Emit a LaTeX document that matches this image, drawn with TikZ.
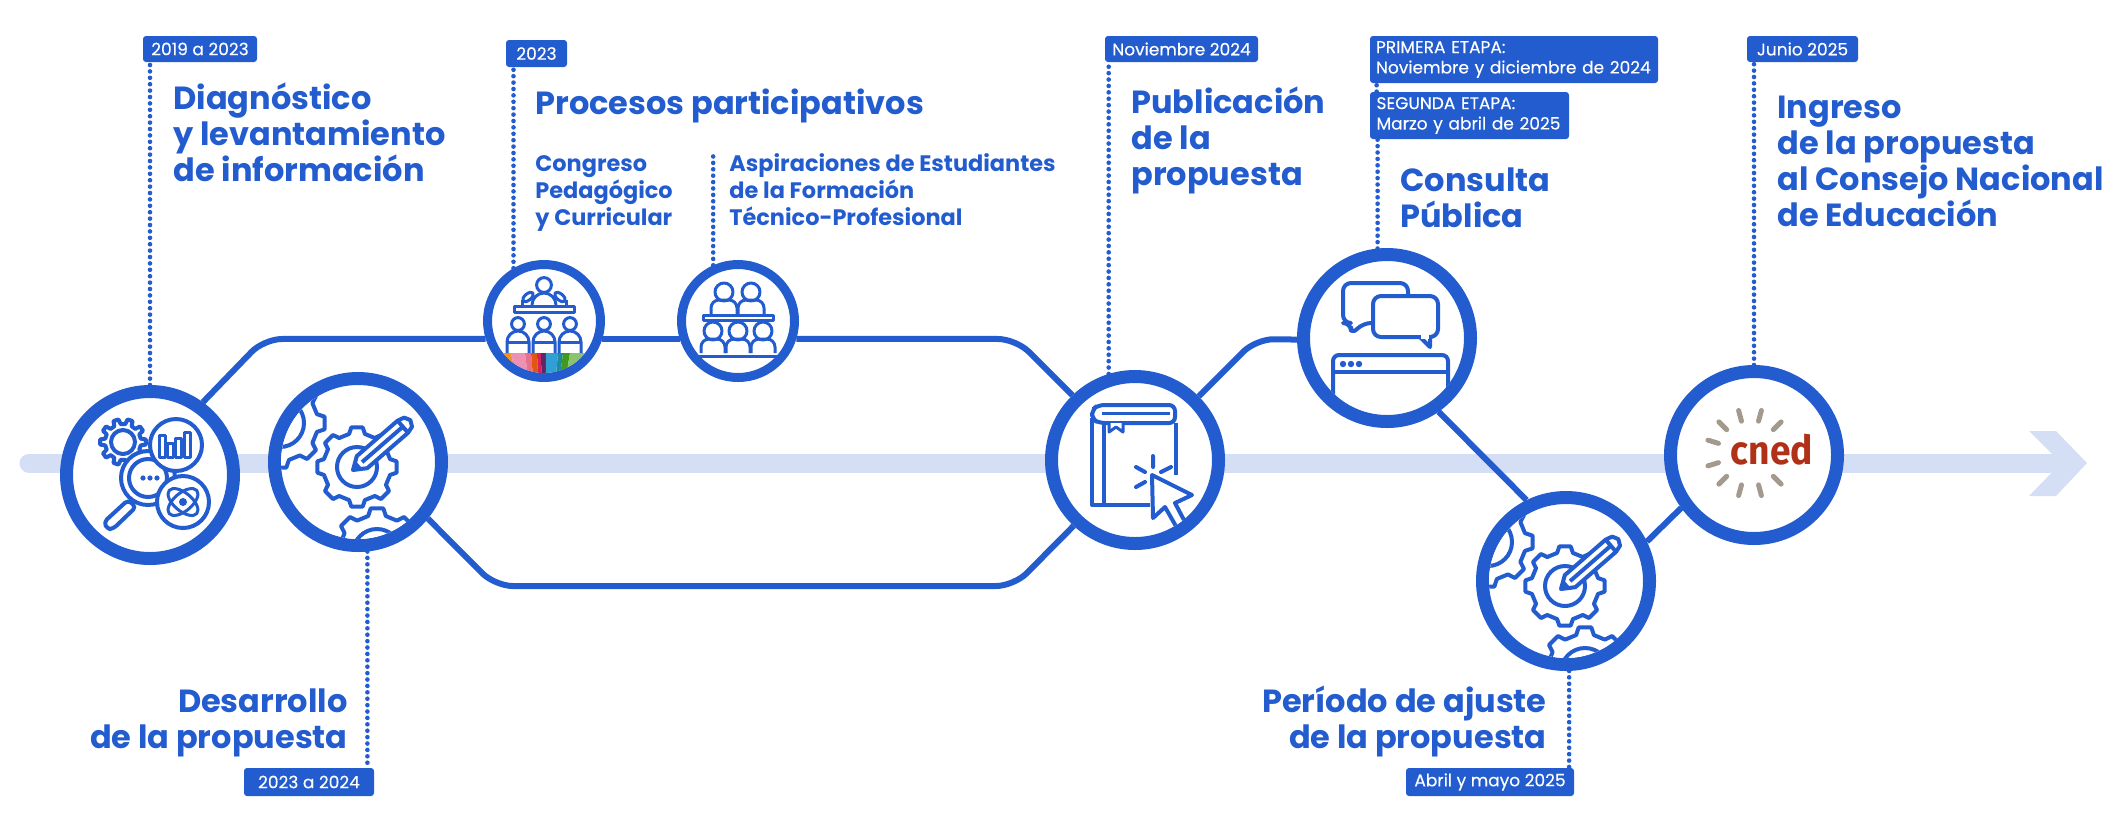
\documentclass[tikz,border=0pt]{standalone}
\usepackage{fontspec}
\setmainfont{Poppins}
\newfontfamily\tagfont[FakeBold=0.2]{Poppins}
\newfontfamily\cnedfont[FakeStretch=0.93]{Fira Sans}
\usetikzlibrary{calc}
\definecolor{cnedblue}{HTML}{235CCF}
\definecolor{axisblue}{HTML}{D4DEF5}
\definecolor{cnedred}{HTML}{B03018}
\definecolor{cnedgray}{HTML}{A39A8D}
\definecolor{bandA}{HTML}{F0931E}
\definecolor{bandB}{HTML}{EE8FB4}
\definecolor{bandC}{HTML}{E8708A}
\definecolor{bandD}{HTML}{E2570F}
\definecolor{bandE}{HTML}{D3225E}
\definecolor{bandF}{HTML}{5A2A62}
\definecolor{bandG}{HTML}{2F9FD6}
\definecolor{bandH}{HTML}{1E8C9E}
\definecolor{bandI}{HTML}{3F9A1E}
\definecolor{bandJ}{HTML}{8CC36E}
\tikzset{bigring/.style={circle, draw=cnedblue, fill=white, line width=6.5pt, minimum size=83.5pt, inner sep=0pt},
    smallring/.style={circle, draw=cnedblue, fill=white, line width=4.5pt, minimum size=56.5pt, inner sep=0pt},
    link/.style={draw=cnedblue, line width=3pt, rounded corners=9pt},
    dotline/.style={draw=cnedblue, line width=2.3pt, line cap=round, dash pattern=on 0pt off 3.2pt},
    tag/.style={fill=cnedblue, rounded corners=1.5pt, text=white, inner sep=0pt, font=\fontsize{8.5}{10.2}\tagfont, align=left},
    title/.style={text=cnedblue, inner sep=0pt, anchor=base west, align=left, font=\fontsize{16}{18}\selectfont\bfseries},
    subtitle/.style={text=cnedblue, inner sep=0pt, anchor=base west, align=left, font=\fontsize{11.2}{13.5}\selectfont\bfseries},
    icon/.style={draw=cnedblue, line width=2pt, line join=round},
    thinicon/.style={draw=cnedblue, line width=1.5pt, line join=round}}
% x y outer root teeth
\newcommand{\gearShape}[5]{
    \pgfmathtruncatemacro{\lastTooth}{#5-1}
    \draw[icon, fill=white, shift={(#1,#2)}] (-108/#5:#4)
        \foreach \k [evaluate=\k as \a using \k*360/#5] in {0,...,\lastTooth}
        { -- (\a-108/#5:#4) -- (\a-65/#5:#3) -- (\a+65/#5:#3) -- (\a+108/#5:#4) } -- cycle;
}
\newcommand{\gearScene}{
    \begin{scope}
        \clip (0,0) circle (38.5pt);
        \gearShape{-78}{-39}{45}{38}{8}
        \draw[icon] (-78,-39) circle (12pt);
        \gearShape{19}{91}{45}{38}{8}
        \draw[icon] (19,91) circle (12pt);
        \gearShape{-1}{5}{40}{34}{8}
        \draw[icon] (-1,5) circle (10pt);
        \begin{scope}[shift={(-5,8)}, rotate=41]
            \draw[icon, fill=white] (0,0) -- (12,-8) -- (66,-8) -- (73,-6) -- (76,0) -- (73,6) -- (66,8) -- (12,8) -- cycle;
            \draw[icon] (66,-8) -- (66,8) (12,0) -- (64,0);
            \fill[cnedblue] (0,0) -- (8,-4) -- (8,4) -- cycle;
        \end{scope}
    \end{scope}
}
\begin{document}
\begin{tikzpicture}[x=0.5pt, y=-0.5pt]
    \useasboundingbox (0,0) rectangle (2110,827);
    % axis
    \coordinate (axisStart) at (29,463);
    \coordinate (axisEnd) at (2062,463);
    \draw[axisblue, line width=9.5pt, line cap=round] (axisStart) -- (axisEnd);
    \fill[axisblue] (2029,431) -- (2056,431) -- (2087,463) -- (2056,496) -- (2029,496) -- (2061,463) -- cycle;
    % circles
    \node[bigring] (diag) at (150,475) {};
    \node[bigring] (desa) at (358,462) {};
    \node[smallring] (cong) at (544,321) {};
    \node[smallring] (aspi) at (738,321) {};
    \node[bigring] (book) at (1135,460) {};
    \node[bigring] (cons) at (1387,338) {};
    \node[bigring] (ajus) at (1566,581) {};
    \node[bigring] (cned) at (1754,455) {};
    % solid links
    \coordinate (upA) at (264,339);
    \coordinate (upB) at (1016,339);
    \coordinate (lowA) at (495,586);
    \coordinate (lowB) at (1014,586);
    \coordinate (upC) at (1256,339);
    \draw[link] (diag.54) -- (upA) -- (cong.197);
    \draw[link] (cong.-17) -- (aspi.197);
    \draw[link] (aspi.-17) -- (upB) -- (book.134);
    \draw[link] (desa.-39) -- (lowA) -- (lowB) -- (book.227);
    \draw[link] (book.45) -- (upC) -- (cons.181);
    \draw[link] (cons.-55) -- (ajus.116);
    \draw[link] (ajus.26) -- (cned.216);
    % date tags
    \node[tag, minimum width=57pt, minimum height=13pt] (tagDiag) at (200,49) {2019 a 2023};
    \node[tag, minimum width=30.5pt, minimum height=13.5pt] (tagCong) at (536.5,53.5) {2023};
    \node[tag, minimum width=76.5pt, minimum height=13pt] (tagBook) at (1181.5,49) {Noviembre 2024};
    \node[tag, text width=138pt, inner xsep=3pt, minimum height=23.5pt] (tagEtapaA) at (1514,59.5) {PRIMERA ETAPA:\\Noviembre y diciembre de 2024};
    \node[tag, text width=93pt, inner xsep=3.25pt, minimum height=23.5pt] (tagEtapaB) at (1469.5,115.5) {SEGUNDA ETAPA:\\Marzo y abril de 2025};
    \node[tag, minimum width=55.5pt, minimum height=13pt] (tagIngr) at (1802.5,49) {Junio 2025};
    \node[tag, minimum width=65pt, minimum height=14pt] (tagDesa) at (309,782) {2023 a 2024};
    \node[tag, minimum width=84pt, minimum height=14pt] (tagAjus) at (1490,782) {Abril y mayo 2025};
    \coordinate (aspiTop) at (713,156);
    % dotted links
    \draw[dotline] (diag.north) -- (diag.north |- tagDiag.south);
    \draw[dotline] (cong.120) -- (cong.120 |- tagCong.south);
    \draw[dotline] (aspi.114) -- (aspi.114 |- aspiTop);
    \draw[dotline] (book.107) -- (book.107 |- tagBook.south);
    \draw[dotline] (cons.96) -- (cons.96 |- tagEtapaB.south);
    \draw[dotline] ($(tagEtapaB.north west)+(7,0)$) -- ($(tagEtapaA.south west)+(7,0)$);
    \draw[dotline] (cned.north) -- (cned.north |- tagIngr.south);
    \draw[dotline] (desa.-84) -- (desa.-84 |- tagDesa.north);
    \draw[dotline] (ajus.-88) -- (ajus.-88 |- tagAjus.north);
    % titles
    \node[title] (txtDiag) at (173,181) {Diagnóstico\\y levantamiento\\de información};
    \node[title] (txtProc) at (535,114) {Procesos participativos};
    \node[subtitle] (txtCong) at (535,225) {Congreso\\Pedagógico\\y Curricular};
    \node[subtitle] (txtAspi) at (729,225) {Aspiraciones de Estudiantes\\de la Formación\\Técnico-Profesional};
    \node[title] (txtBook) at (1131,185) {Publicación\\de la\\propuesta};
    \node[title] (txtCons) at (1400,227) {Consulta\\Pública};
    \node[title] (txtIngr) at (1777,226) {Ingreso\\de la propuesta\\al Consejo Nacional\\de Educación};
    \node[title, anchor=base east, align=right] (txtDesa) at (348,748) {Desarrollo\\de la propuesta};
    \node[title, anchor=base east, align=right] (txtAjus) at (1547,748) {Período de ajuste\\de la propuesta};
    % research icon
    \begin{scope}[shift={(diag.center)}]
        \gearShape{-27}{-33}{23}{18}{10}
        \draw[icon] (-27,-33) circle (6pt);
        \draw[icon, fill=white, rounded corners=2pt] (-22,25) -- (-46,47) -- (-43,54) -- (-37,54) -- (-14,32) -- cycle;
        \draw[icon, fill=white] (-2,3) circle (13.5pt);
        \draw[icon] (-2,3) circle (9.5pt);
        \fill[cnedblue] (-7,3) circle (1.3pt) (0,3) circle (1.3pt) (7,3) circle (1.3pt);
        \draw[icon, fill=white] (26,-30) circle (13pt);
        \foreach \xa/\ya in {12/-40,20/-32,28/-37,37/-43}
            \draw[thinicon] (\xa-3,-18) rectangle (\xa+3,\ya);
        \draw[icon, fill=white] (33,27) circle (13pt);
        \draw[thinicon, rotate around={40:(33,27)}] (33,27) ellipse (9pt and 4.5pt);
        \draw[thinicon, rotate around={-40:(33,27)}] (33,27) ellipse (9pt and 4.5pt);
        \fill[cnedblue] (33,27) circle (2pt);
    \end{scope}
    % gears
    \begin{scope}[shift={(desa.center)}]
        \gearScene
    \end{scope}
    \begin{scope}[shift={(ajus.center)}]
        \gearScene
    \end{scope}
    % congress icon
    \begin{scope}[shift={(cong.center)}]
        \begin{scope}
            \clip (0,0) circle (26pt);
            \foreach \xa/\xb/\clr in {-41/-33/bandA,-33/-19/bandB,-19/-13/bandC,-13/-7/bandD,-7/-3/bandE,-3/2/bandF,2/14/bandG,14/19/bandH,19/26/bandI,26/42/bandJ}
                \fill[\clr] (\xa,32) -- (\xb,32) -- ({\xb*0.85},55) -- ({\xa*0.85},55) -- cycle;
        \end{scope}
        \draw[thinicon] (0,-36) circle (3.7pt);
        \draw[thinicon] (-12,-16) arc (180:0:6pt);
        \draw[thinicon] (-30,-15) rectangle (30,-9);
        \draw[thinicon] (-22,-16) -- (-22,-21) (22,-16) -- (22,-21);
        \draw[thinicon, rotate around={40:(-16,-24)}] (-16,-24) ellipse (3.2pt and 1.6pt);
        \draw[thinicon, rotate around={-40:(16,-24)}] (16,-24) ellipse (3.2pt and 1.6pt);
        \foreach \xa in {-26,0,26} {
            \draw[thinicon] (\xa,3) circle (3.2pt);
            \draw[thinicon] (\xa-11,32) -- (\xa-11,21) arc (180:0:5.5pt) -- (\xa+11,32);
            \draw[thinicon] (\xa-12,21) -- (\xa+12,21);
        }
    \end{scope}
    % students icon
    \begin{scope}[shift={(aspi.center)}]
        \foreach \xa in {-14,13} {
            \draw[thinicon] (\xa,-29) circle (4.5pt);
            \draw[thinicon] (\xa-13,-7) -- (\xa-13,-13) arc (180:90:4pt) -- (\xa+5,-21) arc (90:0:4pt) -- (\xa+13,-7);
        }
        \draw[thinicon] (-35,-6) rectangle (35,-1);
        \foreach \xa in {-25,0,25} {
            \draw[thinicon, fill=white] (\xa,10) circle (4.5pt);
            \draw[thinicon] (\xa-12,32) -- (\xa-12,26) arc (180:90:4pt) -- (\xa+4,18) arc (90:0:4pt) -- (\xa+12,32);
        }
        \draw[thinicon] (-39,35) -- (40,35);
    \end{scope}
    % book icon
    \begin{scope}[shift={(book.center)}]
        \draw[icon, rounded corners=3pt] (40,-37) -- (-36,-37) -- (-43,-41) -- (-43,-50) -- (-37,-55) -- (40,-55) -- cycle;
        \draw[icon] (-43,-42) -- (-43,45) -- (15,45);
        \draw[icon] (-31,-37) -- (-31,45);
        \draw[icon] (41,-37) -- (41,15);
        \draw[thinicon] (-33,-47) -- (35,-47);
        \draw[thinicon, fill=white] (-26,-37) -- (-26,-28) -- (-19,-33) -- (-12,-28) -- (-12,-37);
        \draw[icon, line cap=round] (18,-4) -- (18,7) (1,7) -- (10,12) (26,12) -- (36,7) (1,27) -- (10,22);
        \begin{scope}
            \clip (0,0) circle (38.5pt);
            \draw[icon, fill=white] (17,15) -- (57,35) -- (40,43) -- (50,62) -- (42,68) -- (30,47) -- (18,58) -- cycle;
        \end{scope}
    \end{scope}
    % forum icon
    \begin{scope}[shift={(cons.center)}]
        \draw[icon, rounded corners=4pt] (21,-30) -- (21,-55) -- (-44,-55) -- (-44,-15) -- (-36,-15) -- (-36,-3) -- (-24,-15) -- (-14,-15);
        \draw[icon, fill=white, rounded corners=4pt] (-14,-42) rectangle (51,-1);
        \draw[icon, fill=white] (33,-1) -- (43,9) -- (43,-1);
        \draw[white, line width=2pt] (34,-1) -- (42,-1);
        \begin{scope}
            \clip (0,0) circle (38.5pt);
            \draw[icon, rounded corners=3pt] (-54,70) -- (-54,17) -- (61,17) -- (61,70);
        \end{scope}
        \draw[icon] (-54,34) -- (61,34);
        \fill[cnedblue] (-44,26) circle (1.6pt) (-36,26) circle (1.6pt) (-28,26) circle (1.6pt);
    \end{scope}
    % logo
    \begin{scope}[shift={(cned.center)}]
        \foreach \ang in {45,75,105,135,163,197,225,255,285,315}
            \draw[cnedgray, line width=2.5pt, line cap=round] ($(-4,-2)+(\ang:33)$) -- ($(-4,-2)+(\ang:44)$);
        \node[text=cnedred, inner sep=0pt, font=\fontsize{20}{20}\cnedfont\bfseries] (txtCned) at (18,-5) {cned};
    \end{scope}
\end{tikzpicture}
\end{document}
